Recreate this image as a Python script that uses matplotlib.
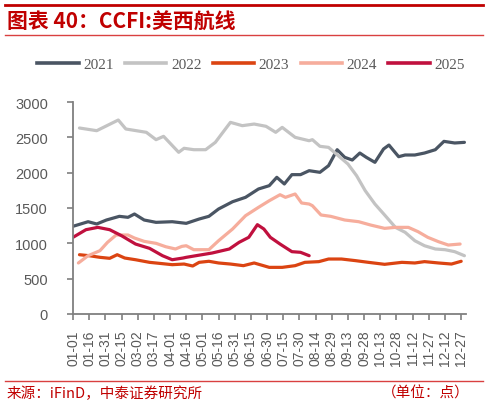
import matplotlib
matplotlib.use("Agg")
import matplotlib.pyplot as plt
from matplotlib.lines import Line2D
import datetime as dt

# ---------------- data (day-of-year, value) ----------------
d2021 = [0, 14, 22, 31, 43, 51, 57, 66, 77, 92, 105, 117, 126, 135, 148, 160, 172, 182, 189, 196,
         203, 211, 219, 229, 237, 245, 252, 259, 266, 272, 280, 288, 293, 302, 308, 317, 326, 336, 344, 354, 363]
v2021 = [1241, 1306, 1274, 1330, 1382, 1368, 1415, 1330, 1297, 1306, 1283, 1344, 1382, 1486, 1589, 1651, 1769, 1816, 1934, 1840,
         1972, 1972, 2028, 2005, 2099, 2325, 2217, 2179, 2278, 2217, 2146, 2335, 2391, 2226, 2250, 2250, 2278, 2325, 2443, 2420, 2429]

d2022 = [6, 22, 42, 49, 68, 77, 84, 98, 103, 112, 123, 132, 146, 157, 168, 179, 188, 194, 206, 219,
         222, 229, 237, 246, 255, 263, 271, 280, 289, 299, 308, 317, 326, 336, 345, 354, 363]
v2022 = [2632, 2594, 2745, 2618, 2571, 2467, 2514, 2288, 2345, 2325, 2325, 2429, 2712, 2665, 2688, 2656, 2571, 2641, 2500, 2452,
         2467, 2373, 2358, 2240, 2122, 1957, 1745, 1556, 1401, 1226, 1156, 1037, 966, 920, 910, 882, 825]

d2023 = [6, 15, 25, 34, 41, 48, 58, 71, 80, 92, 103, 111, 117, 126, 135, 146, 158, 168, 182, 194,
         206, 215, 228, 237, 249, 262, 274, 289, 305, 317, 326, 339, 351, 360]
v2023 = [839, 825, 802, 788, 839, 792, 768, 731, 717, 698, 707, 679, 731, 746, 722, 707, 684, 722, 660, 660,
         684, 731, 741, 778, 778, 755, 731, 703, 731, 722, 741, 722, 707, 746]

d2024 = [5, 14, 25, 32, 40, 51, 57, 66, 77, 86, 95, 101, 105, 112, 126, 135, 148, 160, 172, 182,
         192, 197, 206, 212, 219, 222, 230, 239, 252, 265, 276, 289, 299, 311, 320, 329, 339, 348, 359]
v2024 = [722, 825, 896, 1014, 1118, 1118, 1075, 1028, 1000, 952, 920, 957, 966, 910, 910, 1037, 1203, 1391, 1509, 1603,
         1688, 1651, 1698, 1571, 1556, 1533, 1401, 1382, 1330, 1306, 1259, 1212, 1226, 1226, 1165, 1085, 1023, 976, 990]

d2025 = [0, 12, 23, 34, 45, 58, 71, 83, 92, 102, 105, 114, 129, 145, 154, 163, 171, 177, 183, 192, 203, 211, 219]
v2025 = [1085, 1193, 1226, 1193, 1108, 990, 929, 825, 768, 792, 802, 825, 863, 920, 1014, 1085, 1264, 1203, 1085, 990, 882, 873, 825]

series_names = ["2021", "2022", "2023", "2024", "2025"]
series_days = [d2021, d2022, d2023, d2024, d2025]
series_vals = [v2021, v2022, v2023, v2024, v2025]
colors = ["#4A5563", "#C3C3C3", "#DB4412", "#F6AD9C", "#C0103E"]

tick_days = list(range(0, 361, 15))
base = dt.date(2021, 1, 1)
tick_labels = [(base + dt.timedelta(days=d)).strftime("%m-%d") for d in tick_days]

y_ticks = [0, 500, 1000, 1500, 2000, 2500, 3000]

# ---------------- figure ----------------
W, H = 488, 406
fig = plt.figure(figsize=(W / 100, H / 100), dpi=100)
ax = fig.add_axes([73 / W, 1 - 315 / H, (465.5 - 73) / W, (315 - 103) / H])

for name, d, v, c in zip(series_names, series_days, series_vals, colors):
    ax.plot(d, v, color=c, lw=2.3, solid_capstyle="round", solid_joinstyle="round", label=name)

ax.set_xlim(0, 364)
ax.set_ylim(0, 3000)
ax.set_yticks(y_ticks)
ax.set_xticks(tick_days)
ax.set_xticklabels(tick_labels, rotation=90, family="Liberation Sans", fontsize=10, color="#595959")
ax.set_yticklabels([str(t) for t in y_ticks], family="Liberation Sans", fontsize=10.5, color="#595959")
for s in ["top", "right"]:
    ax.spines[s].set_visible(False)
for s in ["left", "bottom"]:
    ax.spines[s].set_color("#7F7F7F")
    ax.spines[s].set_linewidth(1.3)
ax.tick_params(axis="y", length=4, width=1.2, color="#7F7F7F", pad=14)
ax.tick_params(axis="x", length=4, width=1.2, color="#7F7F7F", pad=7)

# legend
handles = [Line2D([0], [0], color=c, lw=2.6) for c in colors]
fig.legend(handles, series_names, loc="center", bbox_to_anchor=(251 / W, 1 - 65.5 / H), ncol=5,
           frameon=False, prop={"family": "Liberation Serif", "size": 11}, labelcolor="#595959",
           handlelength=2.7, handletextpad=0.3, columnspacing=0.75, borderpad=0)

# title and decoration lines
cjk = ["Noto Sans CJK SC", "DejaVu Sans"]
fig.add_artist(Line2D([5 / W, 483 / W], [1 - 5.7 / H, 1 - 5.7 / H], color="#C00000", lw=2.0))
fig.add_artist(Line2D([5 / W, 483 / W], [1 - 35.7 / H, 1 - 35.7 / H], color="#D94040", lw=1.0))
fig.text(7 / W, 1 - 22 / H, "图表 40：CCFI:美西航线", family=cjk, fontsize=15, fontweight="bold",
         style="italic", color="#C00000", va="center", ha="left")

fig.add_artist(Line2D([5 / W, 483 / W], [1 - 382.3 / H, 1 - 382.3 / H], color="#D94040", lw=1.0))
fig.text(7 / W, 1 - 393.5 / H, "来源：iFinD，中泰证券研究所", family=cjk, fontsize=10.5,
         color="#C00000", va="center", ha="left")
fig.text(470 / W, 1 - 393.5 / H, "（单位：点）", family=cjk, fontsize=10.5,
         color="#C00000", va="center", ha="right")

fig.savefig("out.png", dpi=100)
